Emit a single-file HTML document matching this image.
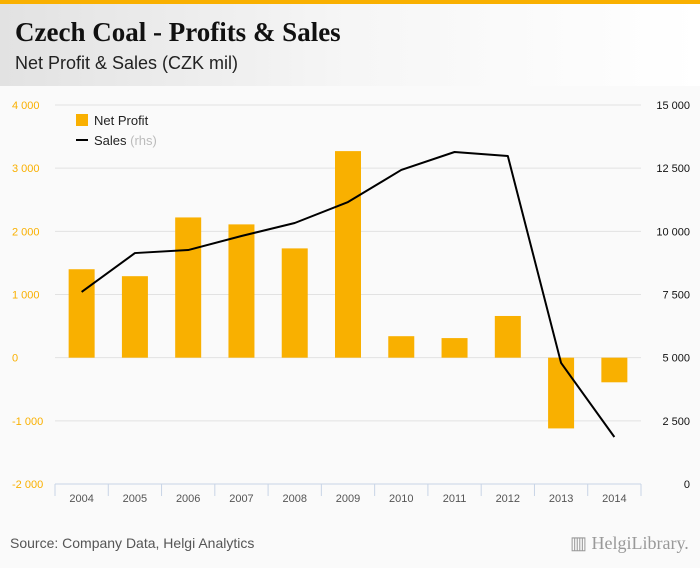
<!DOCTYPE html>
<html><head><meta charset="utf-8"><style>
body{margin:0;width:700px;height:568px;overflow:hidden;background:#fafafa;font-family:"Liberation Sans",sans-serif}
#hdr{position:absolute;left:0;top:0;width:700px;height:86px;background:linear-gradient(90deg,#e2e2e2,#f6f6f6 50%,#fff);border-top:4px solid #f9b000;box-sizing:border-box}
#t{position:absolute;left:15px;top:13px;font-family:"Liberation Serif",serif;font-size:27px;font-weight:bold;color:#111}
#st{position:absolute;left:15px;top:49px;font-size:18px;color:#222}
#src{position:absolute;left:10px;top:535px;font-size:14px;color:#555}
#logo{position:absolute;left:570px;top:533px;font-family:"Liberation Serif",serif;font-size:18px;color:#999}
</style></head><body>
<div id="hdr">
<div id="t">Czech Coal - Profits &amp; Sales</div>
<div id="st">Net Profit &amp; Sales (CZK mil)</div>
</div>
<svg id="c" width="700" height="568" style="position:absolute;left:0;top:0"></svg>
<div id="src">Source: Company Data, Helgi Analytics</div>
<div id="logo">▥ HelgiLibrary.</div>
<script>
const categories=["2004","2005","2006","2007","2008","2009","2010","2011","2012","2013","2014"];
const profit=[1400,1290,2220,2110,1730,3270,340,310,660,-1120,-390];
const sales=[7600,9140,9260,9815,10330,11160,12430,13140,12980,4790,1860];
const leftTicks=[-2000,-1000,0,1000,2000,3000,4000];
const rightTicks=[0,2500,5000,7500,10000,12500,15000];
const L=55,R=641,T=105,B=484;
const yL=v=>B-(v+2000)/6000*(B-T);
const yR=v=>B-v/15000*(B-T);
const cw=(R-L)/categories.length;
const xC=i=>L+cw*(i+0.5);
const fmt=v=>{const s=Math.abs(v).toString().replace(/\B(?=(\d{3})+(?!\d))/g," ");return (v<0?"-":"")+s;};
const svg=document.getElementById('c');const NS="http://www.w3.org/2000/svg";
function mk(t,a,txt){const e=document.createElementNS(NS,t);for(const k in a)e.setAttribute(k,a[k]);if(txt!=null)e.textContent=txt;svg.appendChild(e);return e;}
leftTicks.forEach((v,i)=>{
 if(i>0){const g=mk('line',{x1:L,x2:R,y1:yL(v),y2:yL(v),stroke:'#e2e2e2'});
 
 }
 const t=mk('text',{x:12,y:yL(v)+4,'font-size':11,fill:'#f9b000'},fmt(v));
 
 
});
rightTicks.forEach(v=>{
 const t=mk('text',{x:690,y:yR(v)+4,'font-size':11,fill:'#111','text-anchor':'end'},fmt(v));
 
 
});
const ax=mk('line',{x1:L,x2:R,y1:B,y2:B,stroke:'#c8d4e6'});


categories.forEach((c,i)=>{
 const tk=mk('line',{x1:L+cw*i,x2:L+cw*i,y1:B,y2:B+12,stroke:'#c8d4e6'});
 
 
 const t=mk('text',{x:xC(i),y:B+18,'font-size':11,fill:'#555','text-anchor':'middle'},c);
 
 
 const y0=yL(0),y1=yL(profit[i]);
 const b=mk('rect',{x:xC(i)-13,y:Math.min(y0,y1),width:26,height:Math.abs(y1-y0),fill:'#f9b000'});
 
 
});
const tk=mk('line',{x1:R,x2:R,y1:B,y2:B+12,stroke:'#c8d4e6'});


const ln=mk('polyline',{points:sales.map((v,i)=>xC(i)+','+yR(v)).join(' '),fill:'none',stroke:'#000','stroke-width':2,'stroke-linejoin':'round'});


const l1=mk('rect',{x:76,y:114,width:12,height:12,fill:'#f9b000'});


const l1t=mk('text',{x:94,y:125,'font-size':13,fill:'#222'},'Net Profit');


const l2=mk('line',{x1:76,x2:88,y1:140,y2:140,stroke:'#000','stroke-width':2});


const l2t=mk('text',{x:94,y:145,'font-size':13,fill:'#222'});


l2t.innerHTML='Sales <tspan fill="#bbb">(rhs)</tspan>';
</script>
</body></html>
